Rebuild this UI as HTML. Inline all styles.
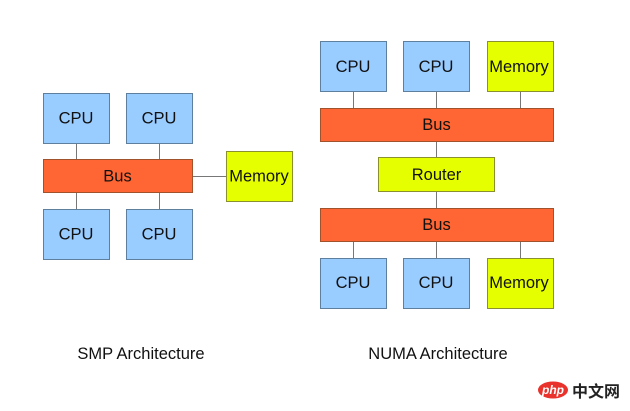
<!DOCTYPE html>
<html>
<head>
<meta charset="utf-8">
<style>
html,body{margin:0;padding:0;background:#fff;width:630px;height:411px;overflow:hidden}
svg{display:block;filter:blur(0.35px)}
text{font-family:"Liberation Sans",sans-serif;font-size:16.5px;fill:#111;text-anchor:middle}
.cpu{fill:#99ccff;stroke:#5f7f9f;stroke-width:1}
.bus{fill:#ff6633;stroke:#a0522d;stroke-width:1}
.mem{fill:#e6ff00;stroke:#8a8f30;stroke-width:1}
.l{stroke:#777;stroke-width:1;fill:none}
</style>
</head>
<body>
<svg width="630" height="411" viewBox="0 0 630 411" xmlns="http://www.w3.org/2000/svg">
<path class="l" d="M76.500 143V159M159.500 143V159M76.500 193V209M159.500 193V209M193 176.500H226"/>
<rect class="cpu" x="43.500" y="93.500" width="66" height="50"/>
<rect class="cpu" x="126.500" y="93.500" width="66" height="50"/>
<rect class="bus" x="43.500" y="159.500" width="149" height="33"/>
<rect class="mem" x="226.500" y="151.500" width="66" height="50"/>
<rect class="cpu" x="43.500" y="209.500" width="66" height="50"/>
<rect class="cpu" x="126.500" y="209.500" width="66" height="50"/>
<text x="76" y="123.500">CPU</text>
<text x="159" y="123.500">CPU</text>
<text x="117.500" y="181.500">Bus</text>
<text x="259" y="181.500">Memory</text>
<text x="76" y="239.500">CPU</text>
<text x="159" y="239.500">CPU</text>

<path class="l" d="M353.500 91V108M436.500 91V108M520.500 91V108M436.500 141V157M436.500 191V208M353.500 241V258M436.500 241V258M520.500 241V258"/>
<rect class="cpu" x="320.500" y="41.500" width="66" height="50"/>
<rect class="cpu" x="403.500" y="41.500" width="66" height="50"/>
<rect class="mem" x="487.500" y="41.500" width="66" height="50"/>
<rect class="bus" x="320.500" y="108.500" width="233" height="33"/>
<rect class="mem" x="378.500" y="157.500" width="116" height="34"/>
<rect class="bus" x="320.500" y="208.500" width="233" height="33"/>
<rect class="cpu" x="320.500" y="258.500" width="66" height="50"/>
<rect class="cpu" x="403.500" y="258.500" width="66" height="50"/>
<rect class="mem" x="487.500" y="258.500" width="66" height="50"/>
<text x="353" y="72">CPU</text>
<text x="436" y="72">CPU</text>
<text x="519" y="72">Memory</text>
<text x="436.500" y="130">Bus</text>
<text x="436.500" y="180">Router</text>
<text x="436.500" y="230">Bus</text>
<text x="353" y="288">CPU</text>
<text x="436" y="288">CPU</text>
<text x="519" y="288">Memory</text>

<text x="141" y="359">SMP Architecture</text>
<text x="438" y="359">NUMA Architecture</text>

<ellipse cx="553" cy="390" rx="15" ry="8.500" fill="#e8322b"/>
<text x="553" y="394" style="font-size:12px;font-style:italic;font-weight:bold;fill:#fff">php</text>
<text x="596" y="397" style="font-size:16px;font-weight:bold;fill:#222;font-family:'Liberation Sans','Noto Sans CJK SC',sans-serif">中文网</text>
</svg>
</body>
</html>
